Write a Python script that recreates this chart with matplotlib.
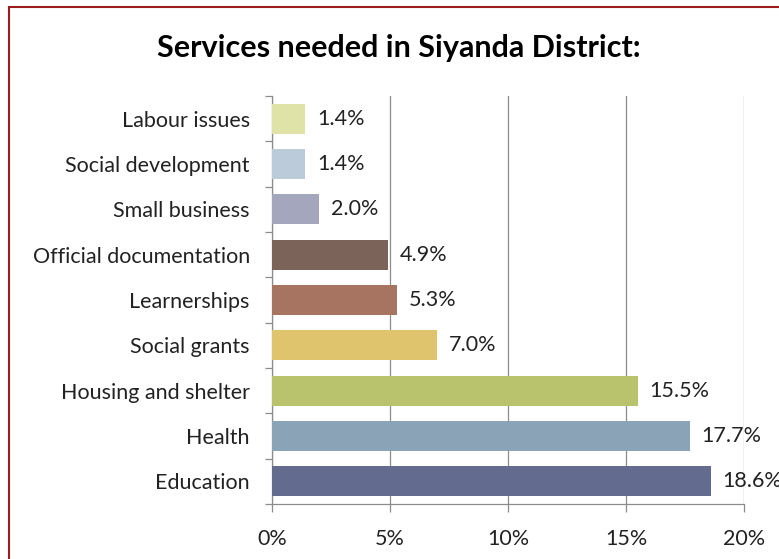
import matplotlib
matplotlib.use('Agg')
import matplotlib.pyplot as plt
from matplotlib.patches import Rectangle
from matplotlib.ticker import FixedLocator, FuncFormatter

plt.rcParams['font.family'] = ['Lato', 'DejaVu Sans']

services = ['Education', 'Health', 'Housing and shelter', 'Social grants',
            'Learnerships', 'Official documentation', 'Small business',
            'Social development', 'Labour issues']
share = [18.6, 17.7, 15.5, 7.0, 5.3, 4.9, 2.0, 1.4, 1.4]
colours = ['#636b8e', '#8ba3b6', '#b9c26d', '#e0c36d', '#a87462',
           '#7c635a', '#a3a6bc', '#bccbda', '#dfe3a7']

W, H = 779, 559
fig = plt.figure(figsize=(W / 100, H / 100), dpi=100)
ax = fig.add_axes([272 / W, 1 - 504 / H, (744 - 272) / W, (504 - 96) / H])

y = range(len(services))
ax.barh(y, share, height=0.66, color=colours, zorder=3)
for yi, v in zip(y, share):
    ax.annotate(f'{v:.1f}%', (v, yi), xytext=(8.5, 0), textcoords='offset points',
                va='center', ha='left', fontsize=15.5, color='#222222',
                annotation_clip=False, zorder=4)

ax.set_xlim(0, 20)
ax.set_ylim(-0.5, len(services) - 0.5)
ax.set_xticks([0, 5, 10, 15, 20])
ax.xaxis.set_major_formatter(FuncFormatter(lambda v, p: f'{v:.0f}%'))
ax.grid(True, axis='x', color='#8c8c8c', lw=0.9, zorder=0)

ax.set_yticks(list(y))
ax.set_yticklabels(services)
ax.yaxis.set_minor_locator(FixedLocator([i - 0.5 for i in range(len(services) + 1)]))
ax.tick_params(axis='y', which='major', length=0, pad=16, labelsize=15.5, labelcolor='#222222')
ax.tick_params(axis='y', which='minor', length=5, color='#8c8c8c', width=0.9)
ax.tick_params(axis='x', length=6, color='#8c8c8c', width=0.9, pad=12,
               labelsize=15.5, labelcolor='#222222')

for s in ['top', 'right']:
    ax.spines[s].set_visible(False)
for s in ['left', 'bottom']:
    ax.spines[s].set_color('#8c8c8c')
    ax.spines[s].set_linewidth(0.9)

fig.text(399 / W, 1 - 48 / H, 'Services needed in Siyanda District:',
         ha='center', va='center', fontsize=22, fontweight='bold')

# outer frame running off the right and bottom edges
fig.patches.append(Rectangle((9 / W, -0.05), 1.0, 1 - 7 / H + 0.05,
                             transform=fig.transFigure, fill=False,
                             edgecolor='#9b1c1c', lw=1.5))

fig.savefig('out.png', dpi=100)
